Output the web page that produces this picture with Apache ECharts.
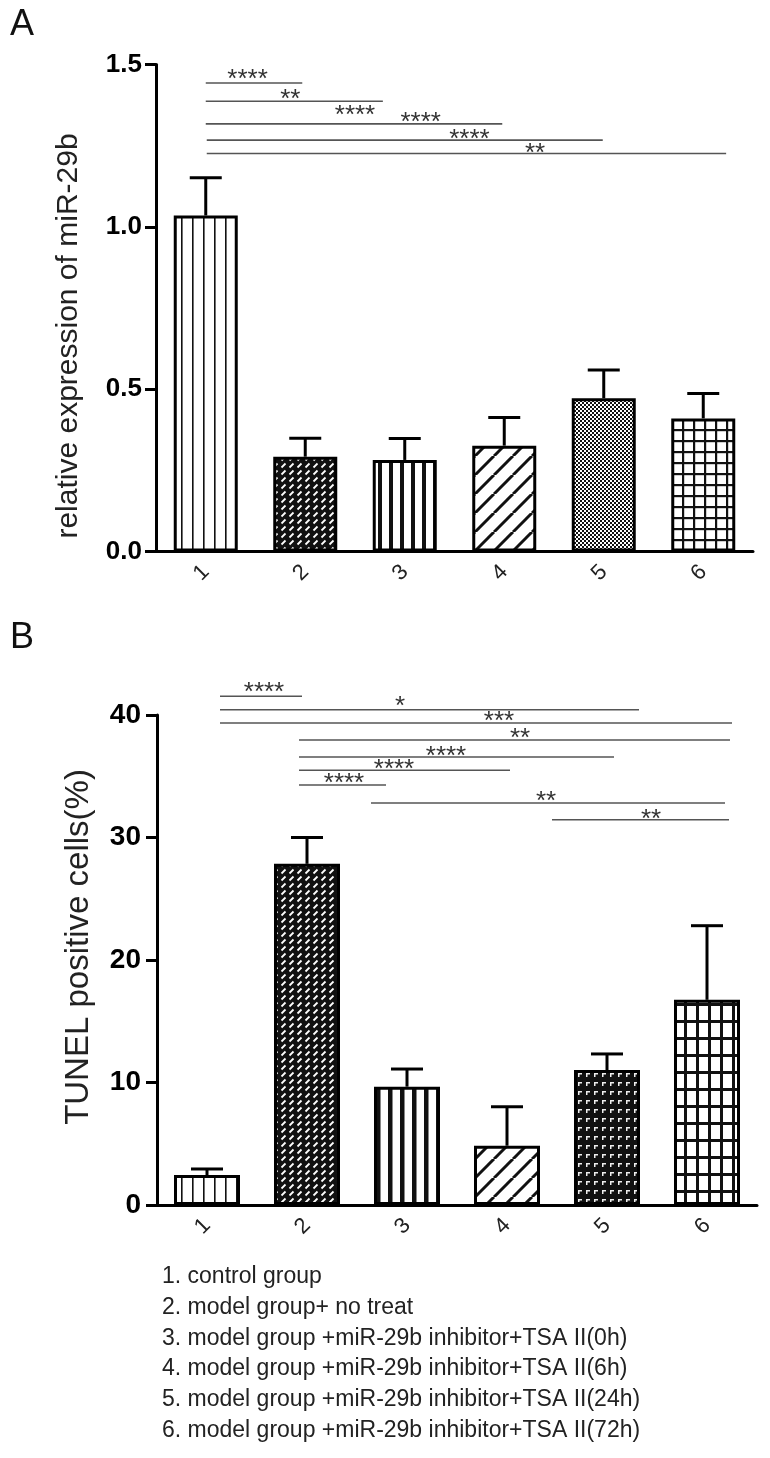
<!DOCTYPE html>
<html>
<head>
<meta charset="utf-8">
<script src="https://cdn.jsdelivr.net/npm/echarts@6/dist/echarts.min.js"></script>
<style>
html, body {margin: 0; padding: 0; background: #fff;}
#chart {width: 770px; height: 1458px;}
</style>
</head>
<body>
<div id="chart"></div>
<script>
// group labels on the x axes
var categories = ['1', '2', '3', '4', '5', '6'];
var groupNames = [
    '1. control group',
    '2. model group+ no treat',
    '3. model group +miR-29b inhibitor+TSA II(0h)',
    '4. model group +miR-29b inhibitor+TSA II(6h)',
    '5. model group +miR-29b inhibitor+TSA II(24h)',
    '6. model group +miR-29b inhibitor+TSA II(72h)'
];

// A: relative expression of miR-29b
var mirMean = [1.035, 0.292, 0.282, 0.326, 0.472, 0.410];
var mirErr = [0.116, 0.057, 0.066, 0.087, 0.087, 0.077];
var mirTicks = {min: 0, max: 1.5, interval: 0.5};
// significance bars: [from, to, y]
var mirSigLines = [[0, 0.97, 1.443], [0, 1.78, 1.387], [0, 2.98, 1.317], [0.01, 3.99, 1.267], [0.01, 5.23, 1.226]];
// star labels: [x, y, text]
var mirSigStars = [[0.42, 1.467, '****'], [0.85, 1.408, '**'], [1.50, 1.357, '****'], [2.16, 1.335, '****'], [2.65, 1.282, '****'], [3.31, 1.239, '**']];

// B: TUNEL positive cells (%)
var tunelMean = [2.45, 27.85, 9.66, 4.84, 11.02, 16.75];
var tunelErr = [0.49, 2.15, 1.44, 3.18, 1.31, 6.05];
var tunelTicks = {min: 0, max: 40, interval: 10};
var tunelSigLines = [[0.13, 0.95, 41.53], [0.13, 4.32, 40.43], [0.13, 5.25, 39.35], [0.92, 5.23, 37.96],
    [0.92, 4.07, 36.57], [0.92, 3.03, 35.49], [0.92, 1.79, 34.29], [1.64, 5.18, 32.82], [3.45, 5.22, 31.45]];
var tunelSigStars = [[0.57, 42.2, '****'], [1.93, 41.09, '*'], [2.92, 39.86, '***'], [3.13, 38.5, '**'],
    [2.39, 36.96, '****'], [1.87, 35.92, '****'], [1.37, 34.75, '****'], [3.39, 33.28, '**'], [4.44, 31.89, '**']];

var FONT = '"Liberation Sans", Arial, sans-serif';

//图案填充
function makePattern(w, h, bg, draw) {
    var c = document.createElement('canvas');
    c.width = w;
    c.height = h;
    var ctx = c.getContext('2d');
    ctx.fillStyle = bg;
    ctx.fillRect(0, 0, w, h);
    draw(ctx, w, h);
    return {image: c, repeat: 'repeat'};
}
var vThin = makePattern(11, 4, '#fff', function (ctx, w, h) {
    ctx.fillStyle = '#111';
    ctx.fillRect(5, 0, 1.6, h);
});
var vThick = makePattern(11, 4, '#fff', function (ctx, w, h) {
    ctx.fillStyle = '#111';
    ctx.fillRect(4, 0, 4, h);
});
var vThickB = makePattern(12, 4, '#fff', function (ctx, w, h) {
    ctx.fillStyle = '#111';
    ctx.fillRect(4, 0, 4.5, h);
});
var dashDiag = makePattern(8, 7, '#111', function (ctx) {
    ctx.strokeStyle = '#fff';
    ctx.lineWidth = 1.8;
    ctx.beginPath();
    ctx.moveTo(1.5, 5.5);
    ctx.lineTo(5.5, 1.5);
    ctx.stroke();
});
var diag = makePattern(19, 19, '#fff', function (ctx, w, h) {
    ctx.strokeStyle = '#111';
    ctx.lineWidth = 3;
    for (var k = -1; k <= 1; k++) {
        ctx.beginPath();
        ctx.moveTo(k * w, h);
        ctx.lineTo(k * w + w, 0);
        ctx.stroke();
    }
});
var checker = makePattern(4, 4, '#fff', function (ctx) {
    ctx.fillStyle = '#111';
    ctx.fillRect(0, 0, 2, 2);
    ctx.fillRect(2, 2, 2, 2);
});
var cornerMarks = makePattern(8, 9, '#111', function (ctx) {
    ctx.fillStyle = '#eee';
    ctx.fillRect(2, 2, 4, 1.5);
    ctx.fillRect(2, 2, 1.5, 4);
});
var gridA = makePattern(11, 11, '#fff', function (ctx, w, h) {
    ctx.fillStyle = '#111';
    ctx.fillRect(0, 0, w, 2.2);
    ctx.fillRect(0, 0, 2.2, h);
});
var gridB = makePattern(12, 17, '#fff', function (ctx, w, h) {
    ctx.fillStyle = '#111';
    ctx.fillRect(0, 0, w, 3);
    ctx.fillRect(0, 0, 3, h);
});
var fillsA = [vThin, dashDiag, vThick, diag, checker, gridA];
var fillsB = [vThin, dashDiag, vThickB, diag, cornerMarks, gridB];

function barData(values, fills) {
    return values.map(function (v, i) {
        return {value: v, itemStyle: {color: fills[i]}};
    });
}

function errData(means, errs) {
    return means.map(function (m, i) {
        return [i, m, m + errs[i]];
    });
}

function renderErr(params, api) {
    var base = api.coord([api.value(0), api.value(1)]);
    var top = api.coord([api.value(0), api.value(2)]);
    var half = 16;
    return {
        type: 'group',
        children: [{
            type: 'line',
            shape: {x1: base[0], y1: base[1], x2: top[0], y2: top[1]},
            style: {stroke: '#000', lineWidth: 3}
        }, {
            type: 'line',
            shape: {x1: top[0] - half, y1: top[1], x2: top[0] + half, y2: top[1]},
            style: {stroke: '#000', lineWidth: 3}
        }]
    };
}

function renderSigLine(params, api) {
    var a = api.coord([api.value(0), api.value(2)]);
    var b = api.coord([api.value(1), api.value(2)]);
    return {
        type: 'line',
        shape: {x1: a[0], y1: a[1], x2: b[0], y2: b[1]},
        style: {stroke: '#555', lineWidth: 1.6}
    };
}

function renderStar(params, api) {
    var p = api.coord([api.value(0), api.value(1)]);
    return {
        type: 'text',
        x: p[0],
        y: p[1] + 5,
        style: {
            text: api.value(2),
            fill: '#333',
            font: '26px ' + FONT,
            align: 'center',
            verticalAlign: 'middle'
        }
    };
}

function catAxis(gridIndex) {
    return {
        type: 'category',
        gridIndex: gridIndex,
        data: categories,
        boundaryGap: true,
        axisLine: {lineStyle: {color: '#000', width: 3}},
        axisTick: {alignWithLabel: true, length: 10, lineStyle: {color: '#000', width: 3}},
        axisLabel: {rotate: 45, margin: 17, fontSize: 22, color: '#222', fontFamily: FONT},
        splitLine: {show: false}
    };
}

function hiddenX(gridIndex) {
    return {type: 'value', gridIndex: gridIndex, min: -0.5, max: 5.5, show: false};
}

function valAxis(gridIndex, ticks, name, fontSize, margin, nameSize, gap, shift) {
    return {
        type: 'value',
        gridIndex: gridIndex,
        min: ticks.min,
        max: ticks.max,
        interval: ticks.interval,
        name: name,
        nameLocation: 'middle',
        nameRotate: 90,
        nameGap: gap,
        nameTextStyle: {
            fontSize: nameSize, color: '#222', fontFamily: FONT,
            padding: shift > 0 ? [0, shift, 0, 0] : [0, 0, 0, -shift]
        },
        axisLine: {show: true, onZero: false, lineStyle: {color: '#000', width: 3}},
        axisTick: {show: true, length: 11, lineStyle: {color: '#000', width: 3}},
        axisLabel: {
            fontSize: fontSize, fontWeight: 'bold', color: '#000', margin: margin, fontFamily: FONT,
            formatter: function (v) {
                return ticks.interval < 1 ? v.toFixed(1) : String(v);
            }
        },
        splitLine: {show: false}
    };
}

var legendTexts = groupNames.map(function (t, i) {
    return {
        type: 'text',
        x: 162,
        y: 1277 + i * 30.7,
        style: {text: t, fill: '#222', font: '23px ' + FONT, verticalAlign: 'middle'}
    };
});

var myChart = echarts.init(document.getElementById('chart'), null, {renderer: 'canvas'});
myChart.setOption({
    animation: false,
    backgroundColor: '#fff',
    grid: [
        {left: 156, top: 64.5, width: 597, height: 487},
        {left: 157, top: 715, width: 600, height: 490}
    ],
    xAxis: [catAxis(0), hiddenX(0), catAxis(1), hiddenX(1)],
    yAxis: [
        valAxis(0, mirTicks, 'relative expression of miR-29b', 26, 14, 30, 72, 56),
        valAxis(1, tunelTicks, 'TUNEL positive cells(%)', 28, 16, 33, 62, -26)
    ],
    graphic: [
        {type: 'text', x: 10, y: 25, style: {text: 'A', fill: '#111', font: '36px ' + FONT, verticalAlign: 'middle'}},
        {type: 'text', x: 10, y: 638, style: {text: 'B', fill: '#111', font: '36px ' + FONT, verticalAlign: 'middle'}}
    ].concat(legendTexts),
    series: [
        {
            type: 'bar', xAxisIndex: 0, yAxisIndex: 0, barWidth: 64,
            itemStyle: {borderColor: '#000', borderWidth: 3},
            data: barData(mirMean, fillsA)
        },
        {
            type: 'custom', xAxisIndex: 0, yAxisIndex: 0, z: 3,
            renderItem: renderErr, data: errData(mirMean, mirErr)
        },
        {
            type: 'custom', xAxisIndex: 1, yAxisIndex: 0, clip: false,
            renderItem: renderSigLine, data: mirSigLines
        },
        {
            type: 'custom', xAxisIndex: 1, yAxisIndex: 0, clip: false,
            renderItem: renderStar, data: mirSigStars
        },
        {
            type: 'bar', xAxisIndex: 2, yAxisIndex: 1, barWidth: 66,
            itemStyle: {borderColor: '#000', borderWidth: 3},
            data: barData(tunelMean, fillsB)
        },
        {
            type: 'custom', xAxisIndex: 2, yAxisIndex: 1, z: 3,
            renderItem: renderErr, data: errData(tunelMean, tunelErr)
        },
        {
            type: 'custom', xAxisIndex: 3, yAxisIndex: 1, clip: false,
            renderItem: renderSigLine, data: tunelSigLines
        },
        {
            type: 'custom', xAxisIndex: 3, yAxisIndex: 1, clip: false,
            renderItem: renderStar, data: tunelSigStars
        }
    ]
});
</script>
</body>
</html>
